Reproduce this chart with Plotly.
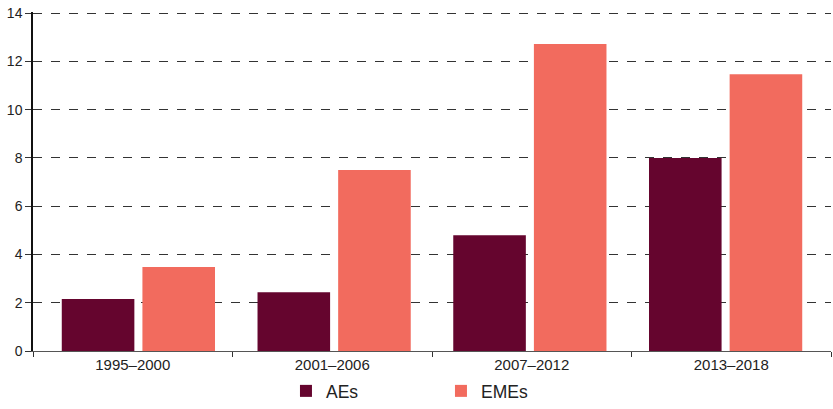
import plotly.graph_objects as go

periods = ["1995–2000", "2001–2006", "2007–2012", "2013–2018"]
aes = [2.15, 2.44, 4.8, 8.0]
emes = [3.48, 7.5, 12.72, 11.47]

# bar groups sit on a slightly narrower spacing than the tick boundaries
pad = 0.0384

fig = go.Figure()
fig.add_trace(go.Bar(x=periods, y=aes, name="AEs", marker=dict(color="#65052E", line_width=0)))
fig.add_trace(go.Bar(x=periods, y=emes, name="EMEs", marker=dict(color="#F26B5E", line_width=0)))
# invisible helper so the label axis gets its categories
fig.add_trace(go.Scatter(x=periods, y=aes, xaxis="x2", mode="markers",
                         marker=dict(opacity=0), showlegend=False, hoverinfo="skip"))

fig.update_layout(
    width=833, height=409,
    margin=dict(l=33, r=2, t=12, b=58),
    plot_bgcolor="white", paper_bgcolor="white",
    barmode="group", bargap=0.176, bargroupgap=0.1,
    font=dict(family="Arial, Liberation Sans, sans-serif", size=13, color="#222"),
    showlegend=True,
    legend=dict(orientation="h", x=0.317, xanchor="left",
                y=0, yanchor="bottom", yref="container",
                font=dict(size=17.5), entrywidth=110, entrywidthmode="pixels"),
    xaxis=dict(type="category", range=[-0.5 - pad, 3.5 + pad],
               showticklabels=False, ticks="", showline=False, showgrid=False,
               automargin=False),
    xaxis2=dict(type="category", overlaying="x", anchor="y", side="bottom",
                categoryarray=periods, range=[-0.5, 3.5],
                showline=True, linecolor="#555", linewidth=1,
                ticks="outside", tickson="boundaries", ticklen=5, tickcolor="#333",
                tickfont=dict(size=15), showgrid=False, automargin=False),
)
fig.update_yaxes(
    range=[0, 14.05], tickvals=[0, 2, 4, 6, 8, 10, 12, 14],
    showline=True, linecolor="#111", linewidth=1.5,
    ticks="outside", ticklen=6, tickcolor="#333", tickfont=dict(size=14),
    showgrid=True, gridcolor="#333", griddash="dash", gridwidth=1,
    zeroline=False, automargin=False, ticklabeloverflow="allow",
)

# drop the browser's default body margin so the figure fills the window
fig.write_html("out.html", config={"displayModeBar": False},
               post_script="document.body.style.margin='0';")
